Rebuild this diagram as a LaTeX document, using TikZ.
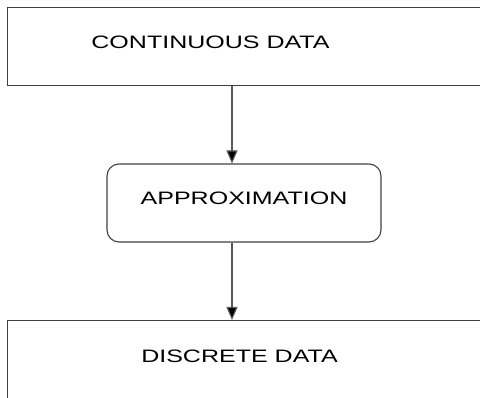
\documentclass[tikz,border=0pt]{standalone}
\usepackage{fontspec}
\setmainfont{Liberation Sans}
\usetikzlibrary{arrows.meta}
\begin{document}
\begin{tikzpicture}[x=1pt,y=1pt,
  box/.style={draw=black!75, line width=1.1pt, inner sep=0pt, minimum width=#1, minimum height=78pt},
  box/.default=482pt,
  rbox/.style={box=274pt, rounded corners=12pt},
  lbl/.style={inner sep=0pt, font=\fontsize{18}{20}\selectfont},
  arr/.style={draw=black!65, line width=1.1pt, -{Triangle[length=13pt,width=11pt,fill=black]}}]
  \useasboundingbox (0,0) rectangle (480,398);
  \clip (0,0) rectangle (480,398);
  % boxes
  \node[box] (top) at (248.85,351.5) {};
  \node[rbox] (mid) at (244,195) {};
  \node[box, minimum height=82pt] (bot) at (248.85,36.5) {};
  % labels
  \node[lbl] (ttop) at (210.5,355.5) {\scalebox{1.39}[1]{CONTINUOUS DATA}};
  \node[lbl] (tmid) at (244,200) {\scalebox{1.39}[1]{APPROXIMATION}};
  \node[lbl] (tbot) at (239.5,41.3) {\scalebox{1.39}[1]{DISCRETE DATA}};
  % flow
  \coordinate (axis) at (232,0);
  \draw[arr] (top.south -| axis) -- (mid.north -| axis);
  \draw[arr] (mid.south -| axis) -- (bot.north -| axis);
\end{tikzpicture}
\end{document}
